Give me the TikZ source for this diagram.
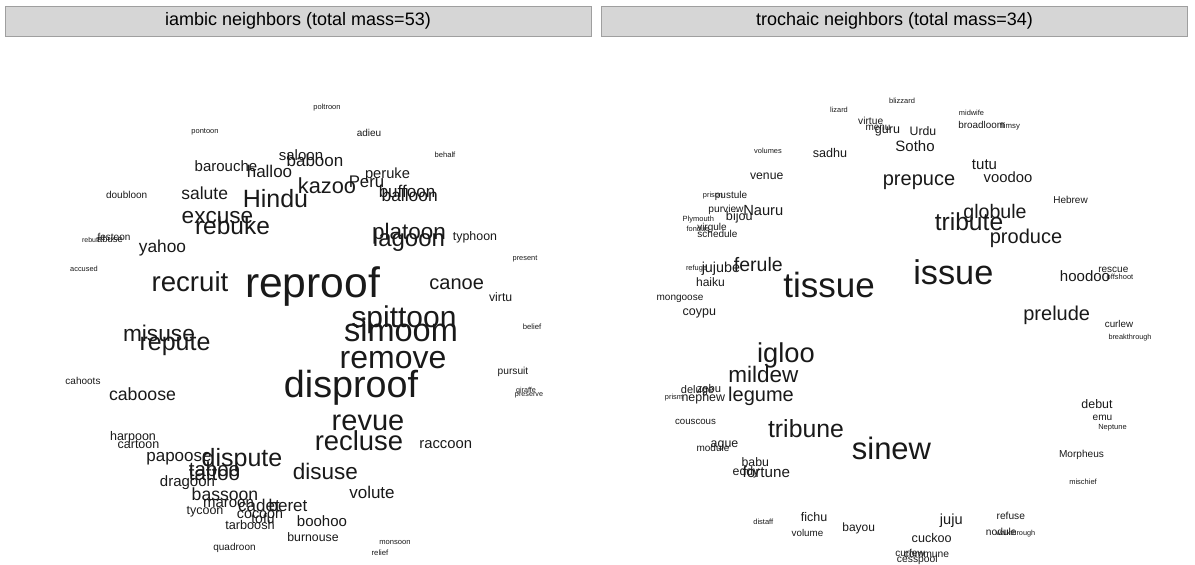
\documentclass[tikz,border=0pt]{standalone}
\usepackage{fontspec}
\setmainfont{Liberation Sans}
\tikzset{
every picture/.style={
line width=0.8pt
}}
\tikzset{
  wsize/.style={font=\fontsize{#1}{#1}\selectfont, inner sep=0pt, anchor=base, text=black!90},
  strip/.style={draw=gray!75, fill=gray!32, inner sep=0pt, minimum width=586pt, minimum height=30pt,
    font=\fontsize{18}{18}\selectfont}
}

\begin{document}
\begin{tikzpicture}[x=1pt,y=-1pt]
\useasboundingbox (0,0) rectangle (1195,565);
% panel headers
\node [strip] (iambic)   at (298,21)   {iambic neighbors (total mass=53)};
\node [strip] (trochaic) at (894.5,21) {trochaic neighbors (total mass=34)};
% left cloud
\foreach \word/\x/\y/\s in {
  pontoon/205/131/7.5, poltroon/327/107/7.5, adieu/369/133/10, behalf/445/155/7.6,
  barouche/226/167/15, halloo/269.5/172/17, saloon/301/156/15, baboon/315/161/17,
  peruke/387.5/174/14.7, Peru/366.5/182/16.8, kazoo/327/187/21.8, buffoon/407/192/17,
  balloon/409.7/196/17.4, salute/204.7/194/17.5, doubloon/126.7/195/10, Hindu/275.5/200/25,
  excuse/217.5/217/22.6, rebuke/232.5/227/24.5, festoon/114/237/10, rebuff/91/240/7,
  abuse/110/240/9.5, yahoo/162.5/247/17.3, platoon/409/233/22.5, lagoon/409/239/24,
  typhoon/475/237/12.4, present/525/258/7.4, accused/84/269/7.4, recruit/190/283/27.6,
  reproof/312.5/285/42.6, canoe/456.7/283/20, virtu/500.7/298/12.3, spittoon/404/318/30,
  simoom/401/332/32.5, belief/532/327/7.7, misuse/159/335/22.7, repute/175/343/25,
  remove/393/359/32, disproof/351/386/37.7, pursuit/513/371/10.2, giraffe/526/390/7.2,
  preserve/529/394/7.2, cahoots/83/381/10, caboose/142.5/395/17.7, revue/368/422/29,
  recluse/359/442/27.4, raccoon/445.7/444/14.8, harpoon/133/437/12.5, cartoon/138.5/445/12.5,
  papoose/179/456/17, dispute/242/459/25, taboo/214.5/470/20.4, tattoo/214.5/474/20.4,
  disuse/325.5/473/22.5, dragoon/187.5/482/15, volute/372/493/17, bassoon/225/495/17.6,
  maroon/228.5/503/15, cadet/259/506/17, beret/288/506/17, tycoon/205/511/12.5,
  cocoon/260/514/14.3, tofu/263/519/14, boohoo/322/522/15, tarboosh/250/526/12.7,
  burnouse/313/538/12.3, monsoon/395/542/7.6, quadroon/234.5/547/10, relief/380/553/7.7}
  \node [wsize=\s] (\word) at (\x,{\y+0.3*\s}) {\word};
% right cloud
\foreach \word/\x/\y/\s in {
  lizard/839/110/7.4, blizzard/902/101/7.5, virtue/870.7/121/10.2, menu/878/127/10,
  guru/887.5/130/12.5, Urdu/923/132/12.3, midwife/971.5/113/7.4, broadloom/981.7/126/9.9,
  flimsy/1010/126/7.8, Sotho/915/147/15, volumes/768/151/7.4, sadhu/830/154/12.6,
  venue/766.7/176/12.2, prepuce/919/179/20, tutu/984.5/165/15, voodoo/1008/178/14.8,
  Hebrew/1070.5/200/10, globule/995/213/19.6, tribute/969/223/24.6, produce/1026/237/20,
  prison/713/195/7.4, pustule/731/195/10, purview/726/209/10.2, Nauru/763.3/211/14.7,
  bijou/739.3/217/12.6, Plymouth/698.3/219/7.5, virgule/712/227/10, fondue/698/229/7.4,
  schedule/717.5/234/10, refuge/696.5/268/7.4, jujube/721/268/14.4, ferule/758.3/266/19.5,
  haiku/710.5/283/12.1, mongoose/680/297/10, coypu/699.3/312/12.5, tissue/829/287/35,
  issue/953.3/274/34.3, hoodoo/1085/277/15, rescue/1113.3/269/10, offshoot/1120/277/7.5,
  prelude/1056.7/314/20, curlew/1119/325/9.8, breakthrough/1130/337/7.3, igloo/786/354/27.3,
  mildew/763.3/376/22.5, legume/761/395/20, deluge/697.5/390/11, zebu/709/389/11.2,
  nephew/703.3/398/12.4, prism/674/397/7.4, couscous/695.5/422/9.7, tribune/806/430/24.8,
  debut/1097/405/12.4, emu/1102.5/417/10.1, Neptune/1112.5/427/7.5, sinew/891.5/450/31,
  Morpheus/1081.5/454/10.1, module/713/448/10, ague/724.5/444/12.4, babu/755.3/463/12.3,
  eddy/746/472/12.3, fortune/766.3/473/15.2, mischief/1083/482/7.5, distaff/763.3/522/7.5,
  fichu/814/518/12.5, volume/807.5/534/9.8, bayou/858.7/528/12, juju/951.3/520/14.6,
  refuse/1010.8/516/10.2, nodule/1001.3/532/10.2, walkthrough/1015.5/533/7.3, cuckoo/931.7/539/12.6,
  curfew/910/553/10, commune/926.5/554/10.3, cesspool/917.3/559/10.3}
  \node [wsize=\s] (\word) at (\x,{\y+0.3*\s}) {\word};
\end{tikzpicture}
\end{document}
